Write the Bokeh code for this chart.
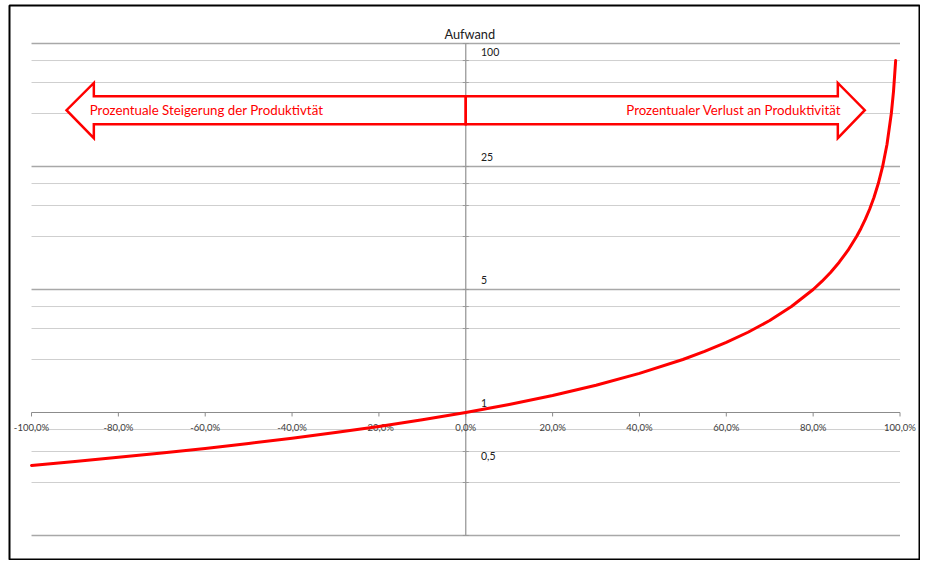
from bokeh.plotting import figure
from bokeh.models import Range1d, LogScale
from bokeh.core.properties import value
from bokeh.embed import file_html
from bokeh.resources import INLINE

# ---- data ----
effort_x = [-1.0, -0.9, -0.8, -0.7, -0.6, -0.5, -0.4, -0.3, -0.2, -0.1, 0.0,
            0.1, 0.2, 0.3, 0.4, 0.5, 0.55, 0.6, 0.65, 0.7, 0.75, 0.8, 0.82,
            0.84, 0.86, 0.88, 0.9, 0.91, 0.92, 0.93, 0.94, 0.95, 0.96, 0.97,
            0.98, 0.985, 0.99]
effort_y = [0.5, 0.526, 0.556, 0.588, 0.625, 0.667, 0.714, 0.769, 0.833, 0.909, 1.0,
            1.111, 1.25, 1.429, 1.667, 2.0, 2.222, 2.5, 2.857, 3.333, 4.0, 5.0, 5.556,
            6.25, 7.143, 8.333, 10.0, 11.11, 12.5, 14.29, 16.67, 20.0, 25.0, 33.33,
            50.0, 66.67, 100.0]

x_ticks = [-1.0, -0.8, -0.6, -0.4, -0.2, 0.0, 0.2, 0.4, 0.6, 0.8, 1.0]
x_tick_labels = ["-100,0%", "-80,0%", "-60,0%", "-40,0%", "-20,0%", "0,0%",
                 "20,0%", "40,0%", "60,0%", "80,0%", "100,0%"]

grid_major = [0.2, 5, 25, 125]
grid_minor = [0.4, 0.6, 0.8, 2, 3, 4, 10, 15, 20, 50, 75, 100]

value_labels = [100, 25, 5, 1, 0.5]
value_label_texts = ["100", "25", "5", "1", "0,5"]

axis_title = "Aufwand"
left_arrow_text = "Prozentuale Steigerung der Produktivtät"
right_arrow_text = "Prozentualer Verlust an Produktivität"

FONT = value("Lato")
RED = "#ff0000"

p = figure(width=920, height=560,
           x_range=Range1d(-1.0507, 1.0449), y_range=Range1d(0.14605, 205.5),
           y_axis_type="log", x_axis_location=None, y_axis_location=None,
           output_backend="svg", toolbar_location=None,
           min_border_left=9, min_border_top=5, min_border_right=1, min_border_bottom=1)
p.y_scale = LogScale()
p.grid.visible = False
p.outline_line_color = "black"
p.outline_line_width = 2
p.background_fill_color = "white"
p.border_fill_color = "white"

# gridlines
p.segment(x0=[-1.0] * len(grid_minor), x1=[1.0] * len(grid_minor), y0=grid_minor, y1=grid_minor,
          line_color="#cfcfcf", line_width=1)
p.segment(x0=[-1.0] * len(grid_major), x1=[1.0] * len(grid_major), y0=grid_major, y1=grid_major,
          line_color="#a8a8a8", line_width=1.3)

# vertical axis at x = 0
p.segment(x0=[0], x1=[0], y0=[min(grid_major)], y1=[max(grid_major)],
          line_color="#9a9a9a", line_width=1.3)
all_grid = grid_minor + grid_major
p.scatter(x=[0] * len(all_grid), y=all_grid, marker="dash", size=6,
          line_color="#9a9a9a", line_width=1)

# horizontal axis at y = 1
p.segment(x0=[min(x_ticks)], x1=[max(x_ticks)], y0=[1], y1=[1],
          line_color="#8c8c8c", line_width=1.2)
p.ray(x=x_ticks, y=[1] * len(x_ticks), length=4, length_units="screen",
      angle=-1.5708, line_color="#8c8c8c", line_width=1)
p.text(x=x_ticks, y=[1] * len(x_ticks), text=x_tick_labels, text_font=FONT,
       text_font_size="9.5px", text_color="#404040", text_align="center",
       text_baseline="middle", y_offset=15)

# arrows (white-filled block arrows with red outline)
ys_shaft_top, ys_shaft_bot = 62.7, 43.5
ys_head_top, ys_head_bot, ys_tip = 74.6, 36.2, 52.2
p.patch(x=[0.0, -0.8565, -0.8565, -0.9194, -0.8565, -0.8565, 0.0],
        y=[ys_shaft_top, ys_shaft_top, ys_head_top, ys_tip, ys_head_bot, ys_shaft_bot, ys_shaft_bot],
        fill_color="white", line_color=RED, line_width=2.5, line_join="miter")
p.patch(x=[0.0, 0.8568, 0.8568, 0.9189, 0.8568, 0.8568, 0.0],
        y=[ys_shaft_top, ys_shaft_top, ys_head_top, ys_tip, ys_head_bot, ys_shaft_bot, ys_shaft_bot],
        fill_color="white", line_color=RED, line_width=2.5, line_join="miter")
p.text(x=[-0.866], y=[ys_tip], text=[left_arrow_text], text_font=FONT,
       text_font_size="13.3px", text_color=RED, text_align="left", text_baseline="middle")
p.text(x=[0.8646], y=[ys_tip], text=[right_arrow_text], text_font=FONT,
       text_font_size="13.3px", text_color=RED, text_align="right", text_baseline="middle")

# the curve
p.line(x=effort_x, y=effort_y, line_color=RED, line_width=3, line_cap="round", line_join="round")

# value labels along the vertical axis
p.text(x=[0.035] * len(value_labels), y=value_labels, text=value_label_texts, text_font=FONT,
       text_font_size="10.5px", text_color="#202020", text_align="left",
       text_baseline="middle", y_offset=-9)

# axis title
p.text(x=[0], y=[max(grid_major)], text=[axis_title], text_font=FONT, text_font_size="12.8px",
       text_color="#202020", text_align="center", text_baseline="middle", x_offset=4, y_offset=-9)

open("out.html", "w").write(file_html(p, INLINE))
